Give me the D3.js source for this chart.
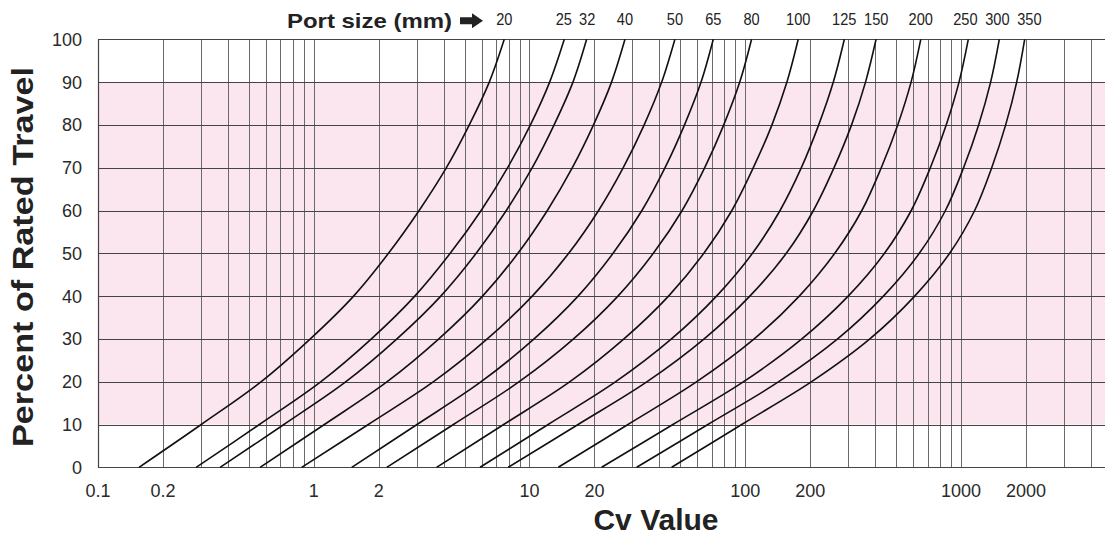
<!DOCTYPE html>
<html>
<head>
<meta charset="utf-8">
<script src="https://cdn.jsdelivr.net/npm/d3@7"></script>
<style>
  html, body { margin: 0; padding: 0; background: #ffffff; }
  svg { display: block; }
  text { font-family: "Liberation Sans", Arial, Helvetica, sans-serif; }
</style>
</head>
<body>
<svg id="chart" width="1105" height="538"></svg>
<script>
// ---- data (Cv value at each percent of rated travel) ----
const travel = [0, 10, 20, 30, 40, 50, 60, 70, 80, 90, 100];
const portSizes = ["20", "25", "32", "40", "50", "65", "80", "100", "125", "150", "200", "250", "300", "350"];
const cv20  = [0.155, 0.301, 0.571, 0.964, 1.53, 2.22, 3.08, 4.12, 5.26, 6.51, 7.64];
const cv25  = [0.285, 0.560, 1.08, 1.85, 2.94, 4.29, 5.97, 7.92, 10.1, 12.4, 14.5];
const cv32  = [0.368, 0.727, 1.41, 2.43, 3.88, 5.66, 7.81, 10.3, 13.0, 15.9, 18.4];
const cv40  = [0.564, 1.12, 2.19, 3.80, 6.06, 8.84, 12.1, 15.8, 19.8, 24.0, 27.7];
const cv50  = [0.879, 1.79, 3.59, 6.37, 10.3, 15.2, 20.9, 27.2, 34.0, 41.0, 47.2];
const cv65  = [1.50, 3.01, 5.97, 10.5, 16.8, 24.4, 33.2, 42.5, 52.3, 62.4, 71.1];
const cv80  = [2.18, 4.44, 8.96, 16.0, 25.7, 37.5, 51.0, 64.9, 79.5, 94.3, 107];
const cv100 = [3.71, 7.59, 15.4, 27.4, 44.1, 64.3, 86.7, 109, 133, 156, 176];
const cv125 = [5.90, 12.2, 25.1, 45.5, 73.6, 108, 145, 182, 219, 256, 288];
const cv150 = [7.97, 16.8, 35.1, 64.5, 105, 155, 207, 258, 311, 361, 404];
const cv200 = [13.6, 28.6, 59.6, 110, 178, 260, 347, 427, 509, 587, 651];
const cv250 = [21.6, 46.2, 98.3, 183, 300, 442, 588, 721, 854, 979, 1081];
const cv300 = [31.4, 67.1, 143, 268, 437, 641, 847, 1028, 1207, 1372, 1505];
const cv350 = [45.6, 96.3, 203, 378, 610, 886, 1157, 1388, 1611, 1812, 1973];
const seriesValues = [cv20, cv25, cv32, cv40, cv50, cv65, cv80, cv100, cv125, cv150, cv200, cv250, cv300, cv350];

const xTickLabels = [0.1, 0.2, 1, 2, 10, 20, 100, 200, 1000, 2000];
const yTicks = [0, 10, 20, 30, 40, 50, 60, 70, 80, 90, 100];
const xDomain = [0.1, 4650];
const shadedBand = [10, 90];

// ---- layout ----
const plot = { left: 98, right: 1105, top: 39.3, bottom: 467.3 };

const svg = d3.select("#chart");
const x = d3.scaleLog().domain(xDomain).range([plot.left, plot.right]);
const y = d3.scaleLinear().domain([0, 100]).range([plot.bottom, plot.top]);

// pink shaded band
svg.append("rect")
  .attr("x", plot.left).attr("y", y(shadedBand[1]))
  .attr("width", plot.right - plot.left)
  .attr("height", y(shadedBand[0]) - y(shadedBand[1]))
  .attr("fill", "#fbe5ee");

// vertical grid lines (every 1..9 x decade)
const vlines = [];
for (let e = -1; e <= 3; e++) {
  for (let m = 1; m <= 9; m++) {
    const v = m * Math.pow(10, e);
    if (v >= xDomain[0] && v <= xDomain[1]) vlines.push(v);
  }
}
svg.append("g").selectAll("line").data(vlines).join("line")
  .attr("x1", d => Math.round(x(d)) + 0.5).attr("x2", d => Math.round(x(d)) + 0.5)
  .attr("y1", plot.top).attr("y2", plot.bottom)
  .attr("stroke", "#6a6a6a").attr("stroke-width", 1);

// horizontal grid lines
svg.append("g").selectAll("line").data(yTicks).join("line")
  .attr("x1", plot.left).attr("x2", plot.right)
  .attr("y1", d => Math.round(y(d)) + 0.5).attr("y2", d => Math.round(y(d)) + 0.5)
  .attr("stroke", "#444").attr("stroke-width", 1);

// left border
svg.append("line")
  .attr("x1", plot.left + 0.5).attr("x2", plot.left + 0.5)
  .attr("y1", plot.top).attr("y2", plot.bottom + 0.5)
  .attr("stroke", "#444").attr("stroke-width", 1.2);

// curves
const line = d3.line()
  .x(d => x(d[0]))
  .y(d => y(d[1]))
  .curve(d3.curveCatmullRom.alpha(0.5));

svg.append("g").selectAll("path").data(seriesValues).join("path")
  .attr("d", vals => line(vals.map((v, i) => [v, travel[i]])))
  .attr("fill", "none")
  .attr("stroke", "#111")
  .attr("stroke-width", 1.6);

// y tick labels
svg.append("g").selectAll("text").data(yTicks).join("text")
  .attr("x", 82).attr("y", d => y(d))
  .attr("dy", "0.36em")
  .attr("text-anchor", "end")
  .attr("font-size", 18)
  .attr("fill", "#2a2a2a")
  .text(d => d);

// x tick labels
svg.append("g").selectAll("text").data(xTickLabels).join("text")
  .attr("x", d => x(d)).attr("y", 497)
  .attr("text-anchor", "middle")
  .attr("font-size", 18)
  .attr("fill", "#2a2a2a")
  .text(d => d);

// axis titles
svg.append("text")
  .attr("x", 656).attr("y", 530)
  .attr("text-anchor", "middle")
  .attr("font-size", 30).attr("font-weight", "bold")
  .attr("fill", "#222")
  .text("Cv Value");

svg.append("text")
  .attr("transform", "translate(33,257) rotate(-90)")
  .attr("text-anchor", "middle")
  .attr("font-size", 30).attr("font-weight", "bold")
  .attr("textLength", 380).attr("lengthAdjust", "spacingAndGlyphs")
  .attr("fill", "#222")
  .text("Percent of Rated Travel");

// port size header
svg.append("text")
  .attr("x", 287).attr("y", 28)
  .attr("font-size", 21).attr("font-weight", "bold")
  .attr("textLength", 165).attr("lengthAdjust", "spacingAndGlyphs")
  .attr("fill", "#222")
  .text("Port size (mm)");

// block arrow
const arrowPts = [[460, 17.3], [472, 17.3], [472, 13.3], [483, 20.8], [472, 28.3], [472, 24.3], [460, 24.3]];
svg.append("path")
  .attr("d", d3.line()(arrowPts) + "Z")
  .attr("fill", "#222");

// port size labels above curve tops, nudged apart where they would touch
const labelX = seriesValues.map(vals => x(vals[vals.length - 1]));
const minGap = 32;
for (let iter = 0; iter < 60; iter++) {
  for (let i = 0; i < labelX.length - 1; i++) {
    const need = (portSizes[i].length + portSizes[i + 1].length) * 4.6 + 5;
    const gap = labelX[i + 1] - labelX[i];
    const want = Math.min(minGap, need);
    if (gap < want) {
      const d = (want - gap) / 2;
      labelX[i] -= d; labelX[i + 1] += d;
    }
  }
}
svg.append("g").selectAll("text").data(portSizes).join("text")
  .attr("transform", (d, i) => `translate(${labelX[i]},25) scale(0.86,1)`)
  .attr("text-anchor", "middle")
  .attr("font-size", 17)
  .attr("fill", "#222")
  .text(d => d);
</script>
</body>
</html>
